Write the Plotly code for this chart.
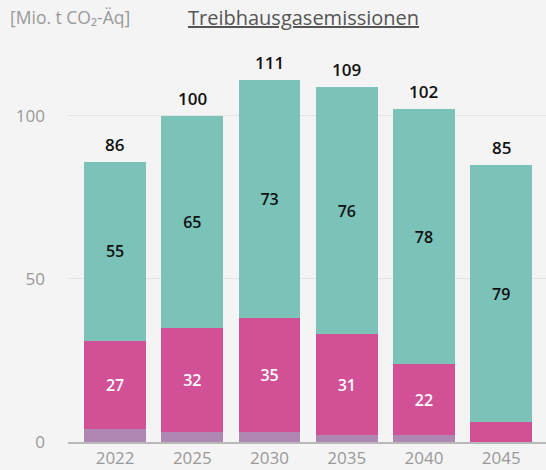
import plotly.graph_objects as go

years = ["2022", "2025", "2030", "2035", "2040", "2045"]
purple = [4, 3, 3, 2, 2, 0]
magenta = [27, 32, 35, 31, 22, 6]
teal = [55, 65, 73, 76, 78, 79]
totals = [86, 100, 111, 109, 102, 85]
magenta_labels = ["27", "32", "35", "31", "22", ""]
teal_labels = [str(v) for v in teal]
y_ticks = [0, 50, 100]

FONT = "Open Sans"
fig = go.Figure()
fig.add_bar(x=years, y=purple, marker=dict(color="#ae87b3", line=dict(width=0)),
            hoverinfo="skip")
fig.add_bar(x=years, y=magenta, marker=dict(color="#d15096", line=dict(width=0)),
            text=magenta_labels, textposition="inside", insidetextanchor="middle",
            textfont=dict(color="white", size=16, family=FONT, weight=600), textangle=0)
fig.add_bar(x=years, y=teal, marker=dict(color="#7bc2b9", line=dict(width=0)),
            text=teal_labels, textposition="inside", insidetextanchor="middle",
            textfont=dict(color="#111", size=16, family=FONT, weight=600), textangle=0)

total_annotations = [
    dict(x=i, y=tot, xref="x", yref="y", text=str(tot), showarrow=False,
         yanchor="bottom", yshift=4,
         font=dict(color="#111", size=17, family=FONT, weight=600))
    for i, tot in enumerate(totals)
]

fig.update_layout(
    barmode="stack", bargap=0.2, showlegend=False,
    width=546, height=470,
    paper_bgcolor="#f4f4f4", plot_bgcolor="#f4f4f4",
    margin=dict(l=68, r=0, t=40, b=28),
    font=dict(family=FONT, color="#999"),
    uniformtext=dict(mode="show", minsize=10),
    xaxis=dict(type="category", range=[-0.61, 5.58], showline=True, linecolor="#b8b8b8",
               linewidth=2, tickfont=dict(size=17, color="#999"), showgrid=False, ticks=""),
    yaxis=dict(range=[0, 123.3], tickvals=y_ticks, showgrid=True, gridcolor="#e3e3e3",
               gridwidth=1, zeroline=False, tickfont=dict(size=17, color="#999"),
               ticklabelstandoff=22),
    annotations=[
        dict(text="[Mio. t CO₂-Äq]", x=0, xref="paper", xanchor="left",
             y=1, yref="paper", yanchor="top", xshift=-60, yshift=37,
             showarrow=False, font=dict(size=17.5, color="#999", family=FONT)),
        dict(text="<u>Treibhausgasemissionen</u>", x=(303 - 68) / 478, xref="paper",
             xanchor="center", y=1, yref="paper", yanchor="top", yshift=38,
             showarrow=False, font=dict(size=20, color="#555", family=FONT)),
    ] + total_annotations,
)
fig.write_html(
    "out.html",
    config={"displayModeBar": False},
    post_script="document.body.style.margin='0';document.body.style.background='#f4f4f4';",
)
